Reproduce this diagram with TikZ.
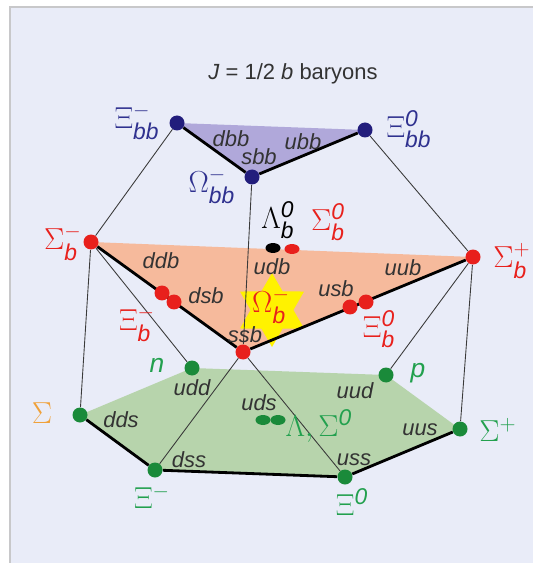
\documentclass[tikz,border=0pt]{standalone}
\usepackage{amsmath}
\usepackage{fontspec}
\setmainfont{Liberation Sans}
\usetikzlibrary{shapes.geometric, backgrounds}
\DeclareMathSizes{17}{17}{13}{10}
\definecolor{bgblue}{HTML}{E9ECF8}
\definecolor{framegray}{HTML}{C8C8CA}
\definecolor{bbnavy}{HTML}{221D7C}
\definecolor{bbtext}{HTML}{2F318F}
\definecolor{bbfill}{HTML}{B0A8DA}
\definecolor{bred}{HTML}{E8201C}
\definecolor{bfill}{HTML}{F6BA9C}
\definecolor{lgreen}{HTML}{1A8A3A}
\definecolor{ltext}{HTML}{22A04E}
\definecolor{lfill}{HTML}{B7D4AC}
\definecolor{starylw}{HTML}{FFF200}
\definecolor{sgorange}{HTML}{F0A13A}
\definecolor{qgray}{HTML}{333333}
\definecolor{linegray}{HTML}{3A3A3A}

\begin{document}
\begin{tikzpicture}[x=0.02cm, y=-0.02cm,
  bdot/.style={circle, fill=#1, inner sep=0pt, minimum size=0.3cm},
  edot/.style={ellipse, fill=#1, inner sep=0pt, minimum width=0.3cm, minimum height=0.2cm},
  qlabel/.style={font=\fontsize{12.5}{14}\selectfont\itshape, text=qgray, inner sep=0pt},
  glabel/.style={font=\fontsize{17}{20}\selectfont, text=#1, inner sep=0pt},
  thinline/.style={draw=linegray, line width=0.5pt},
  thickline/.style={draw=black, line width=1.6pt},
]
\useasboundingbox (0,0) rectangle (533,563);
\node[bdot=bbnavy] (xbbm) at (177,123) {};
\node[bdot=bbnavy] (xbbz) at (365,130) {};
\node[bdot=bbnavy] (obbm) at (252,177) {};
\node[bdot=bred] (sbm) at (91,242) {};
\node[bdot=bred] (sbp) at (473,257) {};
\node[edot=black] (lbz) at (273,248) {};
\node[edot=bred] (sbz) at (292,249) {};
\node[bdot=bred] (xbm1) at (162,293) {};
\node[bdot=bred] (xbm2) at (174,302) {};
\node[bdot=bred] (xbz1) at (350,307) {};
\node[bdot=bred] (xbz2) at (366,302) {};
\node[bdot=bred] (obm) at (243,352) {};
\node[bdot=lgreen] (nn) at (192,368) {};
\node[bdot=lgreen] (pp) at (386,375) {};
\node[bdot=lgreen] (sgm) at (80,415) {};
\node[bdot=lgreen] (sgp) at (460,429) {};
\node[bdot=lgreen] (xim) at (155,470) {};
\node[bdot=lgreen] (xiz) at (345,477) {};
\node[edot=lgreen] (lam) at (263,420) {};
\node[edot=lgreen] (sgz) at (278,420) {};

\begin{scope}[on background layer]
\fill[white] (0,0) rectangle (533,563);
\fill[bgblue] (10,7) rectangle (533,563);
\draw[framegray, line width=1.1pt] (10,563) -- (10,7) -- (533,7);
\fill[bbfill] (xbbm.center) -- (xbbz.center) -- (obbm.center) -- cycle;
\fill[bfill] (sbm.center) -- (sbp.center) -- (obm.center) -- cycle;
\node[star, star points=6, star point ratio=1.73, fill=starylw, inner sep=0pt, minimum size=1.48cm] (ostar) at (272,310) {};
\fill[lfill] (sgm.center) -- (nn.center) -- (pp.center) -- (sgp.center) -- (xiz.center) -- (xim.center) -- cycle;
\draw[thinline] (xbbm) -- (sbm);
\draw[thinline] (xbbz) -- (sbp);
\draw[thinline] (obbm) -- (obm);
\draw[thinline] (sbm) -- (sgm);
\draw[thinline] (sbm) -- (nn);
\draw[thinline] (sbp) -- (pp);
\draw[thinline] (sbp) -- (sgp);
\draw[thinline] (obm) -- (xim);
\draw[thinline] (obm) -- (xiz);
\draw[thickline] (xbbm) -- (obbm) -- (xbbz);
\draw[thickline] (sbm) -- (obm) -- (sbp);
\draw[thickline] (sgm) -- (xim) -- (xiz) -- (sgp);
\end{scope}

\node[font=\fontsize{12.5}{14}\selectfont, text=qgray] (title) at (293,74) {\textit{J} = 1/2 \textit{b} baryons};
\node[glabel=bbtext] (lxbbm) at (137,122) {$\Xi_{\textit{bb}}^{-}$};
\node[glabel=bbtext] (lxbbz) at (409,129) {$\Xi_{\textit{bb}}^{\textit{0}}$};
\node[glabel=bbtext] (lobbm) at (212,186) {$\Omega_{\textit{bb}}^{-}$};
\node[qlabel] (dbb) at (231,139) {dbb};
\node[qlabel] (ubb) at (303,142) {ubb};
\node[qlabel] (sbb) at (259,157) {sbb};
\node[glabel=black] (llbz) at (278,220) {$\Lambda_{\textit{b}}^{\textit{0}}$};
\node[glabel=bred] (lsbz) at (328,222) {$\Sigma_{\textit{b}}^{\textit{0}}$};
\node[glabel=bred] (lsbm) at (63,243) {$\Sigma_{\textit{b}}^{-}$};
\node[glabel=bred] (lsbp) at (512,261) {$\Sigma_{\textit{b}}^{+}$};
\node[qlabel] (ddb) at (161,261) {ddb};
\node[qlabel] (udb) at (272,267) {udb};
\node[qlabel] (uub) at (403,268) {uub};
\node[qlabel] (dsb) at (206,296) {dsb};
\node[qlabel] (usb) at (336,289) {usb};
\node[glabel=bred] (lxbm) at (137,324) {$\Xi_{\textit{b}}^{-}$};
\node[glabel=bred] (lxbz) at (379,329) {$\Xi_{\textit{b}}^{\textit{0}}$};
\node[glabel=bred] (lobm) at (271,306) {$\Omega_{\textit{b}}^{-}$};
\node[qlabel] (ssb) at (245,335) {ssb};
\node[glabel=ltext, font=\fontsize{15}{18}\selectfont\itshape] (ln) at (157,365) {n};
\node[glabel=ltext, font=\fontsize{15}{18}\selectfont\itshape] (lp) at (418,373) {p};
\node[qlabel] (udd) at (192,388) {udd};
\node[qlabel] (uud) at (355,391) {uud};
\node[qlabel] (uds) at (259,403) {uds};
\node[glabel=sgorange] (lsgm) at (42,413) {$\Sigma$};
\node[qlabel] (dds) at (121,420) {dds};
\node[glabel=ltext] (llsz) at (319,426) {$\Lambda,\Sigma^{\textit{0}}$};
\node[qlabel] (uus) at (420,430) {uus};
\node[glabel=ltext] (lsgp) at (498,430) {$\Sigma^{+}$};
\node[qlabel] (dss) at (189,460) {dss};
\node[qlabel] (uss) at (354,460) {uss};
\node[glabel=ltext] (lxim) at (152,497) {$\Xi^{-}$};
\node[glabel=ltext] (lxiz) at (352,502) {$\Xi^{\textit{0}}$};
\end{tikzpicture}
\end{document}
